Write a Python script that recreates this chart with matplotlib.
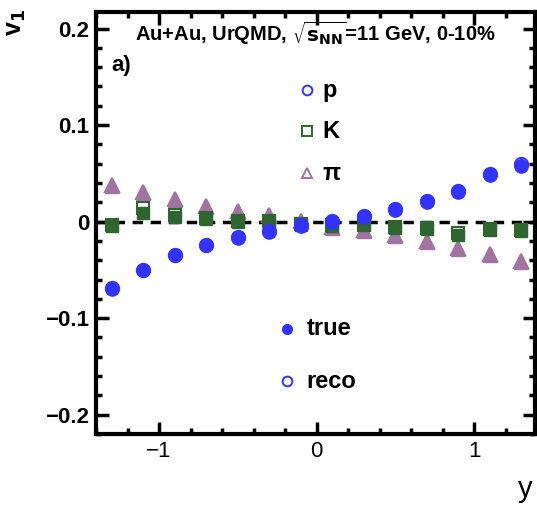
import numpy as np
import matplotlib.pyplot as plt
from matplotlib.ticker import MultipleLocator, FuncFormatter

plt.rcParams['font.family'] = ['Liberation Sans', 'DejaVu Sans']

# rapidity bins
y_bins = [-1.3, -1.1, -0.9, -0.7, -0.5, -0.3, -0.1, 0.1, 0.3, 0.5, 0.7, 0.9, 1.1, 1.3]

# protons
v1_p_true = [-0.070, -0.050, -0.035, -0.024, -0.017, -0.011, -0.005, 0.000, 0.005, 0.012, 0.020, 0.031, 0.048, 0.058]
v1_p_reco = [-0.069, -0.050, -0.035, -0.024, -0.016, -0.010, -0.004, 0.001, 0.006, 0.013, 0.021, 0.032, 0.049, 0.060]
v1_p_err = [0.005, 0.002, 0.002, 0.002, 0.002, 0.002, 0.002, 0.002, 0.002, 0.002, 0.002, 0.002, 0.002, 0.006]

# kaons
v1_k_true = [-0.005, 0.0085, 0.005, 0.003, 0.000, 0.000, -0.003, -0.005, -0.004, -0.007, -0.008, -0.014, -0.009, -0.0095]
v1_k_reco = [-0.004, 0.014, 0.007, 0.004, 0.001, 0.001, -0.002, -0.004, -0.004, -0.006, -0.007, -0.012, -0.008, -0.009]

# pions
v1_pi_true = [0.037, 0.030, 0.022, 0.015, 0.010, 0.006, 0.000, -0.007, -0.0095, -0.015, -0.021, -0.028, -0.035, -0.042]
v1_pi_reco = [0.038, 0.031, 0.023, 0.016, 0.011, 0.007, 0.001, -0.006, -0.009, -0.014, -0.020, -0.027, -0.034, -0.041]

c_p = '#3333ff'
c_k = '#2f662f'
c_pi = '#a073a0'

fig = plt.figure(figsize=(5.37, 5.07), dpi=100)
ax = fig.add_axes([0.179, 0.144, 0.817, 0.832])

ax.axhline(0, color='black', lw=2.5, ls=(0, (3, 2.2)), zorder=1)

# pions
ax.plot(y_bins, v1_pi_reco, '^', ms=9.5, mfc='none', mec=c_pi, mew=1.5, zorder=2)
ax.plot(y_bins, v1_pi_true, '^', ms=9.5, color=c_pi, zorder=3)
# kaons
ax.plot(y_bins, v1_k_reco, 's', ms=8.5, mfc='none', mec=c_k, mew=1.5, zorder=4)
ax.plot(y_bins, v1_k_true, 's', ms=8.5, color=c_k, zorder=5)
# protons
ax.errorbar(y_bins, v1_p_reco, yerr=v1_p_err, fmt='o', ms=9.5, mfc='none', mec=c_p,
            ecolor=c_p, elinewidth=2, capsize=0, mew=1.5, zorder=6)
ax.errorbar(y_bins, v1_p_true, yerr=v1_p_err, fmt='o', ms=9.5, color=c_p,
            elinewidth=2, capsize=0, zorder=7)

ax.set_xlim(-1.4, 1.385)
ax.set_ylim(-0.22, 0.217)

ax.xaxis.set_major_locator(MultipleLocator(1))
ax.xaxis.set_minor_locator(MultipleLocator(0.2))
ax.yaxis.set_major_locator(MultipleLocator(0.1))
ax.yaxis.set_minor_locator(MultipleLocator(0.02))

def fmt(v, pos):
    if abs(v) < 1e-9:
        return '0'
    s = ('%g' % v).replace('-', '\u2212')
    return s

ax.xaxis.set_major_formatter(FuncFormatter(fmt))
ax.yaxis.set_major_formatter(FuncFormatter(fmt))

ax.tick_params(which='both', direction='in', top=True, right=True, width=2.5, labelsize=16)
ax.tick_params(which='major', length=9, pad=5)
ax.tick_params(which='minor', length=4.5)
for lbl in ax.get_yticklabels():
    lbl.set_fontweight('bold')
for s in ax.spines.values():
    s.set_linewidth(3)

# axis titles, ROOT style
fig.text(0.03, 0.955, 'v$_\\mathbf{1}$', fontsize=18, fontweight='bold', ha='center', va='center',
         rotation=90)
fig.text(0.978, 0.035, 'y', fontsize=21, ha='center', va='center')

ax.text(0.5, 0.95, r'Au+Au, UrQMD, $\mathbf{\sqrt{s_{NN}}}$=11 GeV, 0-10%', transform=ax.transAxes,
        fontsize=14.5, fontweight='bold', ha='center', va='center')
ax.text(0.035, 0.874, 'a)', transform=ax.transAxes, fontsize=16, fontweight='bold', va='center')

# species legend
leg_x = 0.48
for yy, mk, col, lab in [(0.815, 'o', c_p, 'p'), (0.718, 's', c_k, 'K'), (0.618, '^', c_pi, '\u03c0')]:
    ax.plot([leg_x], [yy], mk, ms=7, mfc='none', mec=col, mew=1.4, transform=ax.transAxes, clip_on=False)
    ax.text(leg_x + 0.035, yy, lab, transform=ax.transAxes, fontsize=17, fontweight='bold', va='center')

# true/reco legend
ax.plot([0.435], [0.25], 'o', ms=7, color=c_p, transform=ax.transAxes)
ax.text(0.48, 0.25, 'true', transform=ax.transAxes, fontsize=17, fontweight='bold', va='center')
ax.plot([0.435], [0.125], 'o', ms=7, mfc='none', mec=c_p, mew=1.4, transform=ax.transAxes)
ax.text(0.48, 0.125, 'reco', transform=ax.transAxes, fontsize=17, fontweight='bold', va='center')

fig.savefig('out.png', dpi=100)
